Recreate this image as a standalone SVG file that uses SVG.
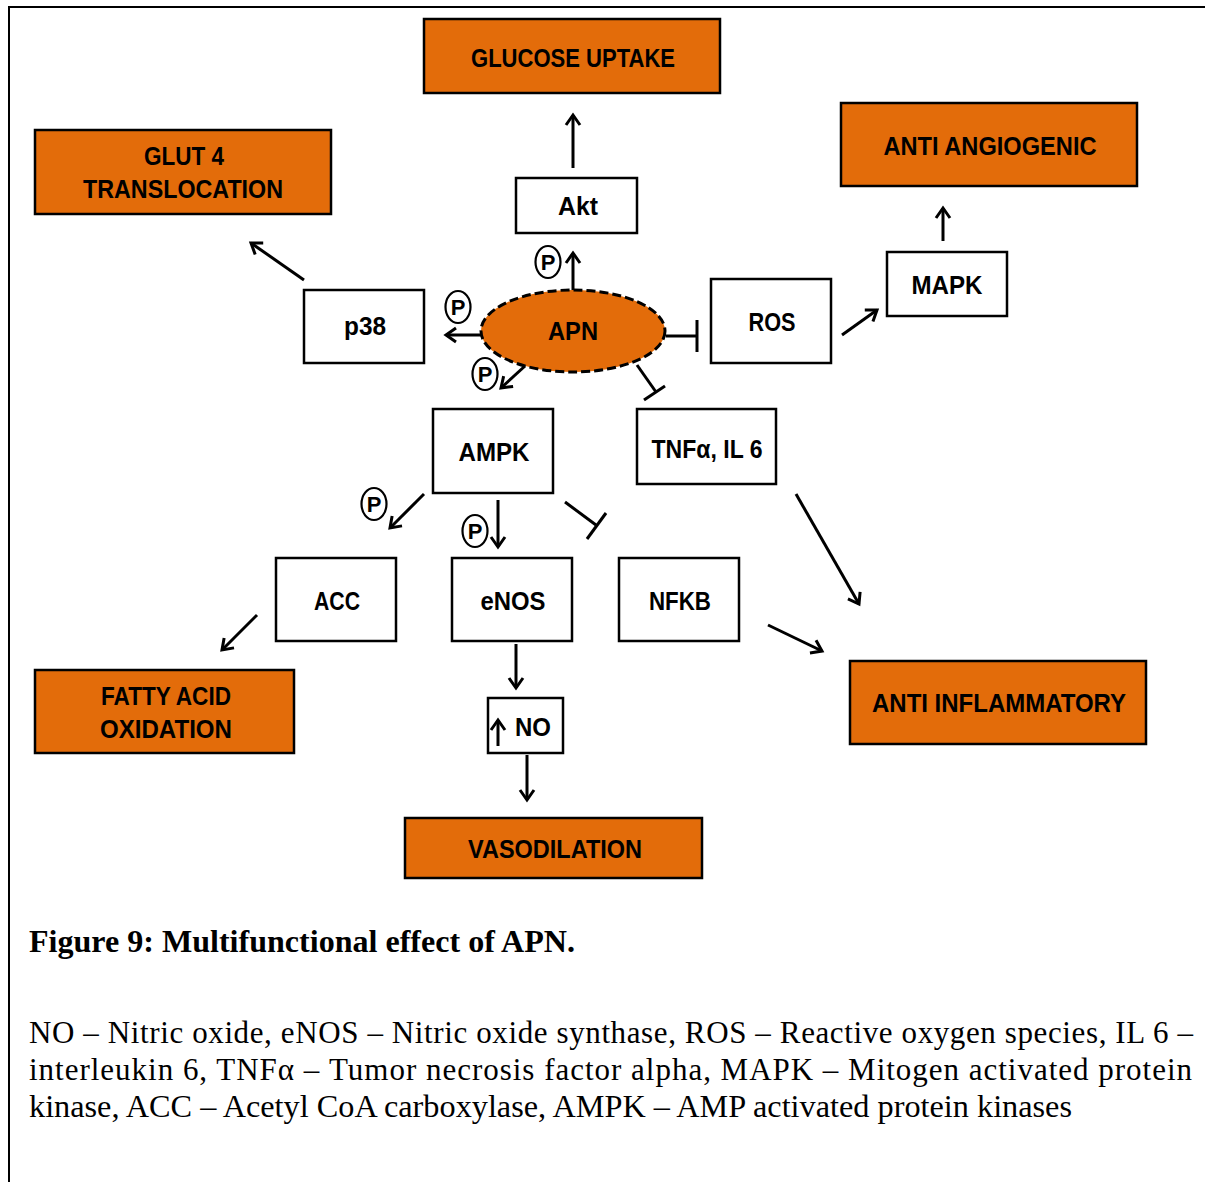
<svg xmlns="http://www.w3.org/2000/svg" width="1205" height="1182" viewBox="0 0 1205 1182">
<defs>
<style>
.o{fill:#E36C0A;stroke:#000;stroke-width:2.5}
.w{fill:#fff;stroke:#000;stroke-width:2.5}
.t{font-family:"Liberation Sans",Arial,sans-serif;font-weight:bold;font-size:26px;fill:#000;text-anchor:middle}
.c{stroke:#000;stroke-width:3;fill:none}
.pc{fill:#fff;stroke:#000;stroke-width:2.2}
.pt{font-family:"Liberation Sans",Arial,sans-serif;font-weight:bold;font-size:22px;fill:#000;text-anchor:middle}
.cap{font-family:"Liberation Serif","Times New Roman",serif;font-size:31px;fill:#000}
</style>
<marker id="ah" markerUnits="userSpaceOnUse" markerWidth="20" markerHeight="20" refX="12" refY="10" orient="auto">
<path d="M2,3 L12,10 L2,17" fill="none" stroke="#000" stroke-width="3"/>
</marker>
</defs>
<rect width="1205" height="1182" fill="#fff"/>
<path d="M9,1182 V7 H1205" fill="none" stroke="#000" stroke-width="2"/>

<g id="glucose-uptake"><rect class="o" x="424" y="19" width="296" height="74"/><text class="t" x="573" y="67" textLength="204" lengthAdjust="spacingAndGlyphs">GLUCOSE UPTAKE</text></g>
<g id="glut4"><rect class="o" x="35" y="130" width="296" height="84"/><text class="t" x="184" y="165" textLength="80" lengthAdjust="spacingAndGlyphs">GLUT 4</text><text class="t" x="183" y="198" textLength="200" lengthAdjust="spacingAndGlyphs">TRANSLOCATION</text></g>
<g id="anti-angiogenic"><rect class="o" x="841" y="103" width="296" height="83"/><text class="t" x="990" y="155" textLength="213" lengthAdjust="spacingAndGlyphs">ANTI ANGIOGENIC</text></g>
<g id="akt"><rect class="w" x="516" y="178" width="121" height="55"/><text class="t" x="578" y="215" textLength="40" lengthAdjust="spacingAndGlyphs">Akt</text></g>
<g id="mapk"><rect class="w" x="887" y="252" width="120" height="64"/><text class="t" x="947" y="294" textLength="71" lengthAdjust="spacingAndGlyphs">MAPK</text></g>
<g id="p38"><rect class="w" x="304" y="290" width="120" height="73"/><text class="t" x="365" y="335" textLength="42" lengthAdjust="spacingAndGlyphs">p38</text></g>
<g id="ros"><rect class="w" x="711" y="279" width="120" height="84"/><text class="t" x="772" y="331" textLength="47" lengthAdjust="spacingAndGlyphs">ROS</text></g>
<g id="apn"><ellipse cx="573" cy="331" rx="92" ry="41" fill="#E36C0A" stroke="#000" stroke-width="3" stroke-dasharray="9,4"/><text class="t" x="573" y="340" textLength="50" lengthAdjust="spacingAndGlyphs">APN</text></g>
<g id="ampk"><rect class="w" x="433" y="409" width="120" height="84"/><text class="t" x="494" y="461" textLength="71" lengthAdjust="spacingAndGlyphs">AMPK</text></g>
<g id="tnf"><rect class="w" x="637" y="409" width="139" height="75"/><text class="t" x="707" y="458" textLength="111" lengthAdjust="spacingAndGlyphs">TNFα, IL 6</text></g>
<g id="acc"><rect class="w" x="276" y="558" width="120" height="83"/><text class="t" x="337" y="610" textLength="46" lengthAdjust="spacingAndGlyphs">ACC</text></g>
<g id="enos"><rect class="w" x="452" y="558" width="120" height="83"/><text class="t" x="513" y="610" textLength="65" lengthAdjust="spacingAndGlyphs">eNOS</text></g>
<g id="nfkb"><rect class="w" x="619" y="558" width="120" height="83"/><text class="t" x="680" y="610" textLength="62" lengthAdjust="spacingAndGlyphs">NFKB</text></g>
<g id="fatty-acid"><rect class="o" x="35" y="670" width="259" height="83"/><text class="t" x="166" y="705" textLength="130" lengthAdjust="spacingAndGlyphs">FATTY ACID</text><text class="t" x="166" y="738" textLength="132" lengthAdjust="spacingAndGlyphs">OXIDATION</text></g>
<g id="no"><rect class="w" x="488" y="698" width="75" height="55"/><text class="t" x="533" y="736" textLength="36" lengthAdjust="spacingAndGlyphs">NO</text><line class="c" x1="498" y1="746" x2="498" y2="720" marker-end="url(#ah)"/></g>
<g id="anti-inflammatory"><rect class="o" x="850" y="661" width="296" height="83"/><text class="t" x="999" y="712" textLength="254" lengthAdjust="spacingAndGlyphs">ANTI INFLAMMATORY</text></g>
<g id="vasodilation"><rect class="o" x="405" y="818" width="297" height="60"/><text class="t" x="555" y="858" textLength="174" lengthAdjust="spacingAndGlyphs">VASODILATION</text></g>

<g id="connectors">
<line class="c" x1="573" y1="168" x2="573" y2="115" marker-end="url(#ah)"/>
<line class="c" x1="573" y1="290" x2="573" y2="253" marker-end="url(#ah)"/>
<line class="c" x1="481" y1="335" x2="446" y2="335" marker-end="url(#ah)"/>
<line class="c" x1="525" y1="366" x2="501" y2="388" marker-end="url(#ah)"/>
<line class="c" x1="666" y1="336" x2="697" y2="336"/>
<line class="c" x1="697" y1="320" x2="697" y2="352"/>
<line class="c" x1="637" y1="365" x2="656" y2="392"/>
<line class="c" x1="644" y1="400" x2="665" y2="386"/>
<line class="c" x1="304" y1="280" x2="251" y2="243" marker-end="url(#ah)"/>
<line class="c" x1="842" y1="335" x2="877" y2="310" marker-end="url(#ah)"/>
<line class="c" x1="943" y1="241" x2="943" y2="208" marker-end="url(#ah)"/>
<line class="c" x1="424" y1="494" x2="390" y2="528" marker-end="url(#ah)"/>
<line class="c" x1="498" y1="500" x2="498" y2="547" marker-end="url(#ah)"/>
<line class="c" x1="565" y1="502" x2="596" y2="525"/>
<line class="c" x1="606" y1="513" x2="587" y2="539"/>
<line class="c" x1="796" y1="494" x2="859" y2="604" marker-end="url(#ah)"/>
<line class="c" x1="768" y1="625" x2="822" y2="651" marker-end="url(#ah)"/>
<line class="c" x1="257" y1="615" x2="222" y2="650" marker-end="url(#ah)"/>
<line class="c" x1="516" y1="644" x2="516" y2="688" marker-end="url(#ah)"/>
<line class="c" x1="527" y1="755" x2="527" y2="800" marker-end="url(#ah)"/>
</g>

<g id="p-labels">
<ellipse class="pc" cx="548" cy="262" rx="12.5" ry="16"/><text class="pt" x="548" y="270">P</text>
<ellipse class="pc" cx="458" cy="307" rx="12.5" ry="16"/><text class="pt" x="458" y="315">P</text>
<ellipse class="pc" cx="485" cy="374" rx="12.5" ry="16"/><text class="pt" x="485" y="382">P</text>
<ellipse class="pc" cx="374" cy="504" rx="12.5" ry="16"/><text class="pt" x="374" y="512">P</text>
<ellipse class="pc" cx="475" cy="531" rx="12.5" ry="16"/><text class="pt" x="475" y="539">P</text>
</g>

<text class="cap" x="29" y="952" font-weight="bold" textLength="546" lengthAdjust="spacingAndGlyphs">Figure 9: Multifunctional effect of APN.</text>
<text class="cap" x="29" y="1043" textLength="1164" lengthAdjust="spacing">NO – Nitric oxide, eNOS – Nitric oxide synthase, ROS – Reactive oxygen species, IL 6 –</text>
<text class="cap" x="29" y="1080" textLength="1163" lengthAdjust="spacing">interleukin 6, TNFα – Tumor necrosis factor alpha, MAPK – Mitogen activated protein</text>
<text class="cap" x="29" y="1117" textLength="1043" lengthAdjust="spacingAndGlyphs">kinase, ACC – Acetyl CoA carboxylase, AMPK – AMP activated protein kinases</text>
</svg>
